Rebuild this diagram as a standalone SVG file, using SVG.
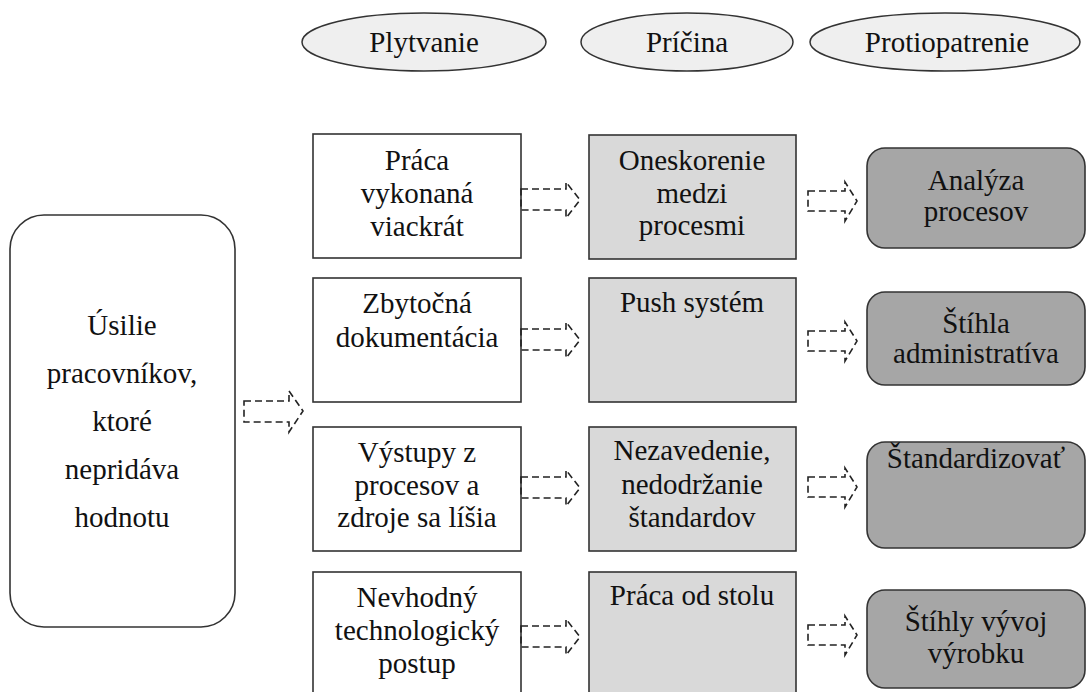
<svg xmlns="http://www.w3.org/2000/svg" width="1087" height="692" viewBox="0 0 1087 692">
  <defs>
    <style>
      text { font-family: "Liberation Serif", "Tinos", "Noto Serif", "DejaVu Serif", "FreeSerif", "Times", serif; font-size: 29px; fill: #111; text-anchor: middle; }
      .head { fill: #efefef; stroke: #333; stroke-width: 1.5; }
      .waste { fill: #ffffff; stroke: #333; stroke-width: 1.6; }
      .cause { fill: #d9d9d9; stroke: #333; stroke-width: 1.6; }
      .measure { fill: #a6a6a6; stroke: #333; stroke-width: 1.6; }
      .root { fill: #ffffff; stroke: #333; stroke-width: 1.6; }
      .arrow { fill: none; stroke: #222; stroke-width: 1.6; stroke-dasharray: 7 4; }
    </style>
  </defs>
  <rect width="1087" height="692" fill="#ffffff"/>

  <!-- column headers -->
  <g id="hdr-plytvanie">
    <ellipse class="head" cx="424" cy="42" rx="122" ry="29"/>
    <text x="424" y="52">Plytvanie</text>
  </g>
  <g id="hdr-pricina">
    <ellipse class="head" cx="687" cy="42" rx="106" ry="29"/>
    <text x="687" y="52">Príčina</text>
  </g>
  <g id="hdr-protiopatrenie">
    <ellipse class="head" cx="945" cy="42" rx="135" ry="29"/>
    <text x="947" y="52">Protiopatrenie</text>
  </g>

  <!-- root node -->
  <g id="root">
    <rect class="root" x="10" y="215" width="225" height="412" rx="34" ry="34"/>
    <text x="122" y="335">Úsilie</text>
    <text x="122" y="383">pracovníkov,</text>
    <text x="122" y="431">ktoré</text>
    <text x="122" y="479">nepridáva</text>
    <text x="122" y="527">hodnotu</text>
  </g>

  <!-- waste column -->
  <g id="waste-1">
    <rect class="waste" x="313" y="134" width="208" height="124"/>
    <text x="417" y="170">Práca</text>
    <text x="417" y="203">vykonaná</text>
    <text x="417" y="236">viackrát</text>
  </g>
  <g id="waste-2">
    <rect class="waste" x="313" y="278" width="208" height="124"/>
    <text x="417" y="313">Zbytočná</text>
    <text x="417" y="347">dokumentácia</text>
  </g>
  <g id="waste-3">
    <rect class="waste" x="313" y="427" width="208" height="124"/>
    <text x="417" y="462">Výstupy z</text>
    <text x="417" y="495">procesov a</text>
    <text x="417" y="527">zdroje sa líšia</text>
  </g>
  <g id="waste-4">
    <rect class="waste" x="313" y="572" width="208" height="130"/>
    <text x="417" y="607">Nevhodný</text>
    <text x="417" y="640">technologický</text>
    <text x="417" y="673">postup</text>
  </g>

  <!-- cause column -->
  <g id="cause-1">
    <rect class="cause" x="589" y="135" width="207" height="124"/>
    <text x="692" y="170">Oneskorenie</text>
    <text x="692" y="203">medzi</text>
    <text x="692" y="235">procesmi</text>
  </g>
  <g id="cause-2">
    <rect class="cause" x="589" y="278" width="207" height="124"/>
    <text x="692" y="312">Push systém</text>
  </g>
  <g id="cause-3">
    <rect class="cause" x="589" y="427" width="207" height="124"/>
    <text x="692" y="460">Nezavedenie,</text>
    <text x="692" y="494">nedodržanie</text>
    <text x="692" y="527">štandardov</text>
  </g>
  <g id="cause-4">
    <rect class="cause" x="589" y="572" width="207" height="130"/>
    <text x="692" y="605">Práca od stolu</text>
  </g>

  <!-- countermeasure column -->
  <g id="measure-1">
    <rect class="measure" x="867" y="148" width="218" height="100" rx="18" ry="18"/>
    <text x="976" y="190">Analýza</text>
    <text x="976" y="221">procesov</text>
  </g>
  <g id="measure-2">
    <rect class="measure" x="867" y="292" width="218" height="93" rx="18" ry="18"/>
    <text x="976" y="333">Štíhla</text>
    <text x="976" y="363">administratíva</text>
  </g>
  <g id="measure-3">
    <rect class="measure" x="867" y="442" width="218" height="106" rx="18" ry="18"/>
    <text x="976" y="468">Štandardizovať</text>
  </g>
  <g id="measure-4">
    <rect class="measure" x="867" y="590" width="218" height="98" rx="18" ry="18"/>
    <text x="976" y="631">Štíhly vývoj</text>
    <text x="976" y="663">výrobku</text>
  </g>

  <!-- connectors: dashed outline block arrows -->
  <g id="connectors">
    <path class="arrow" d="M244,401 H289 V391 L303,411 L289,432 V422 H244 Z"/>

    <path class="arrow" d="M521,189 H566 V182 L580,200 L566,218 V210 H521 Z"/>
    <path class="arrow" d="M521,329 H566 V322 L580,340 L566,358 V350 H521 Z"/>
    <path class="arrow" d="M521,477 H566 V470 L580,488 L566,506 V498 H521 Z"/>
    <path class="arrow" d="M521,626 H566 V619 L580,637 L566,655 V647 H521 Z"/>

    <path class="arrow" d="M808,191 H845 V182 L857,201 L845,221 V211 H808 Z"/>
    <path class="arrow" d="M808,331 H845 V322 L857,341 L845,361 V351 H808 Z"/>
    <path class="arrow" d="M808,477 H845 V468 L857,487 L845,507 V497 H808 Z"/>
    <path class="arrow" d="M808,625 H845 V616 L857,635 L845,655 V645 H808 Z"/>
  </g>
</svg>
